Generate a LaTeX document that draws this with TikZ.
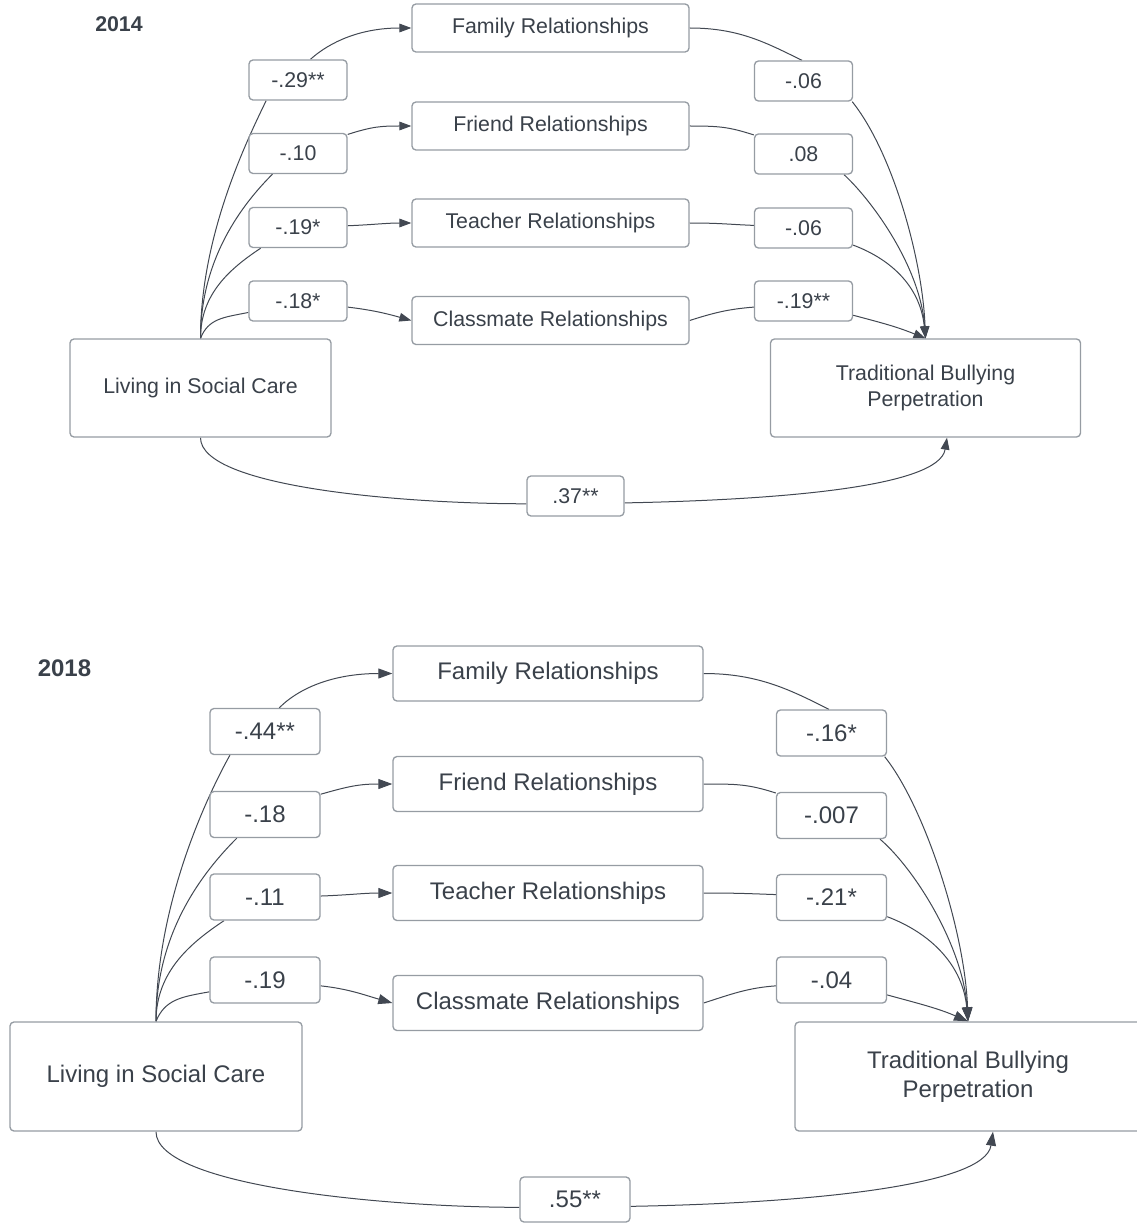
\documentclass[tikz,border=0pt]{standalone}
\usepackage{fontspec}
\setmainfont{Liberation Sans}
\usetikzlibrary{arrows.meta,calc}
\pgfdeclarelayer{bg}
\pgfsetlayers{bg,main}
\definecolor{ink}{RGB}{58,65,74}
\definecolor{wire}{RGB}{66,72,82}
\definecolor{frame}{RGB}{150,156,163}
\begin{document}
\begin{tikzpicture}[x=0.75pt,y=-0.75pt,
  box/.style={draw=frame, line width=1pt, rounded corners=3pt, fill=white, text=ink, inner sep=0pt, align=center},
  fsA/.style={font=\fontsize{16}{19.5}\selectfont},
  fsB/.style={font=\fontsize{18}{21.75}\selectfont},
  midA/.style={box, fsA, minimum width=207.75pt, minimum height=36pt},
  midB/.style={box, fsB, minimum width=232.5pt, minimum height=41.25pt},
  coefA/.style={box, fsA, minimum width=73.5pt, minimum height=30pt},
  coefB/.style={box, fsB, minimum width=82.5pt, minimum height=34.5pt},
  year/.style={text=ink, inner sep=0pt},
  wirestyle/.style={draw=wire, line width=0.75pt},
  tipA/.style={wirestyle, -{Triangle[length=9pt,width=6.5pt]}},
  tipB/.style={wirestyle, -{Triangle[length=10.5pt,width=7.5pt]}},
]
\useasboundingbox (0,0) rectangle (1136,1223);

% ---------- 2014 ----------
\node[year, font=\fontsize{16}{19}\selectfont\bfseries] (y14) at (119,24) {2014};
\node[midA] (fam14) at (550.5,28) {Family Relationships};
\node[midA] (fri14) at (550.5,126) {Friend Relationships};
\node[midA] (tea14) at (550.5,223) {Teacher Relationships};
\node[midA] (cla14) at (550.5,320.5) {Classmate Relationships};
\node[box, fsA, minimum width=195.75pt, minimum height=73.5pt] (liv14) at (200.5,388) {Living in Social Care};
\node[box, fsA, minimum width=232.5pt, minimum height=73.5pt] (tbp14) at (925.5,388) {Traditional Bullying\\Perpetration};
\node[coefA] (p14a) at (298,80) {-.29**};
\node[coefA] (p14b) at (298,153.5) {-.10};
\node[coefA] (p14c) at (298,227.5) {-.19*};
\node[coefA] (p14d) at (298,301) {-.18*};
\node[coefA] (q14a) at (803.5,81) {-.06};
\node[coefA] (q14b) at (803.5,154) {.08};
\node[coefA] (q14c) at (803.5,228) {-.06};
\node[coefA] (q14d) at (803.5,301) {-.19**};
\node[box, fsA, minimum width=72.75pt, minimum height=30pt] (r14) at (575.5,496) {.37**};
\coordinate (e14) at ($(tbp14.south)+(21.5,0)$);

% ---------- 2018 ----------
\node[year, font=\fontsize{18}{21}\selectfont\bfseries] (y18) at (64.5,668) {2018};
\node[midB] (fam18) at (548,673.5) {Family Relationships};
\node[midB] (fri18) at (548,784) {Friend Relationships};
\node[midB] (tea18) at (548,893) {Teacher Relationships};
\node[midB] (cla18) at (548,1003) {Classmate Relationships};
\node[box, fsB, minimum width=219pt, minimum height=81.75pt] (liv18) at (156,1076.5) {Living in Social Care};
\node[box, fsB, minimum width=259.5pt, minimum height=81.75pt] (tbp18) at (968,1076.5) {Traditional Bullying\\Perpetration};
\node[coefB] (p18a) at (265,731.5) {-.44**};
\node[coefB] (p18b) at (265,814.5) {-.18};
\node[coefB] (p18c) at (265,897) {-.11};
\node[coefB] (p18d) at (265,980) {-.19};
\node[coefB] (q18a) at (831.5,733) {-.16*};
\node[coefB] (q18b) at (831.5,815.5) {-.007};
\node[coefB] (q18c) at (831.5,897.5) {-.21*};
\node[coefB] (q18d) at (831.5,980) {-.04};
\node[box, fsB, minimum width=82.5pt, minimum height=33.75pt] (r18) at (575,1199.5) {.55**};
\coordinate (e18) at ($(tbp18.south)+(25,0)$);

\begin{pgfonlayer}{bg}
% 2014: care -> relationships
\draw[wirestyle] (liv14.north) .. controls +(0,-100) and +(-22,45) .. (p14a.213);
\draw[tipA] (p14a.59) .. controls +(20,-18) and +(-50,0) .. (fam14.west);
\draw[wirestyle] (liv14.north) .. controls +(0,-80) and +(-30,30) .. (p14b.219);
\draw[tipA] (p14b.21) .. controls +(25,-8) and +(-30,0) .. (fri14.west);
\draw[wirestyle] (liv14.north) .. controls +(0,-45) and +(-30,20) .. (p14c.209);
\draw[tipA] (p14c.2) .. controls +(25,-1) and +(-25,0) .. (tea14.west);
\draw[wirestyle] (liv14.north) .. controls +(8,-20) and +(-25,5) .. (p14d.193);
\draw[tipA] (p14d.353) .. controls +(25,3) and +(-25,-7) .. (cla14.west);
% 2014: relationships -> bullying
\draw[wirestyle] (fam14.east) .. controls +(50,0) and +(-35,-17) .. (q14a.94);
\draw[tipA] (q14a.337) .. controls +(40,50) and +(-3,-80) .. (tbp14.north);
\draw[wirestyle] (fri14.east) .. controls +(30,0) and +(-25,-8) .. (q14b.159);
\draw[tipA] (q14b.333) .. controls +(30,28) and +(-5,-70) .. (tbp14.north);
\draw[wirestyle] (tea14.east) .. controls +(30,0) and +(-25,-1) .. (q14c.177);
\draw[tipA] (q14c.341) .. controls +(40,15) and +(-5,-50) .. (tbp14.north);
\draw[wirestyle] (cla14.east) .. controls +(25,-8) and +(-25,2) .. (q14d.187);
\draw[tipA] (q14d.344) .. controls +(30,8) and +(-30,-12) .. (tbp14.north);
% 2014: direct path
\draw[wirestyle] (liv14.south) .. controls +(0,50) and +(-120,0) .. (r14.189);
\draw[tipA] (r14.352) .. controls +(150,-3) and +(-8,50) .. (e14);

% 2018: care -> relationships
\draw[wirestyle] (liv18.north) .. controls +(0,-115) and +(-25,45) .. (p18a.214);
\draw[tipB] (p18a.59) .. controls +(22,-22) and +(-55,0) .. (fam18.west);
\draw[wirestyle] (liv18.north) .. controls +(0,-90) and +(-33,33) .. (p18b.220);
\draw[tipB] (p18b.20) .. controls +(28,-8) and +(-33,0) .. (fri18.west);
\draw[wirestyle] (liv18.north) .. controls +(0,-50) and +(-33,22) .. (p18c.210);
\draw[tipB] (p18c.1) .. controls +(28,-1) and +(-28,0) .. (tea18.west);
\draw[wirestyle] (liv18.north) .. controls +(9,-22) and +(-28,5) .. (p18d.192);
\draw[tipB] (p18d.354) .. controls +(28,3) and +(-28,-8) .. (cla18.west);
% 2018: relationships -> bullying
\draw[wirestyle] (fam18.east) .. controls +(55,0) and +(-38,-19) .. (q18a.96);
\draw[tipB] (q18a.336) .. controls +(40,50) and +(-3,-90) .. (tbp18.north);
\draw[wirestyle] (fri18.east) .. controls +(33,0) and +(-28,-9) .. (q18b.158);
\draw[tipB] (q18b.334) .. controls +(35,30) and +(-5,-75) .. (tbp18.north);
\draw[wirestyle] (tea18.east) .. controls +(33,0) and +(-28,-1) .. (q18c.177);
\draw[tipB] (q18c.341) .. controls +(45,17) and +(-5,-55) .. (tbp18.north);
\draw[wirestyle] (cla18.east) .. controls +(28,-9) and +(-28,2) .. (q18d.186);
\draw[tipB] (q18d.345) .. controls +(33,9) and +(-30,-13) .. (tbp18.north);
% 2018: direct path
\draw[wirestyle] (liv18.south) .. controls +(0,55) and +(-130,0) .. (r18.188);
\draw[tipB] (r18.353) .. controls +(170,-3) and +(-8,55) .. (e18);
\end{pgfonlayer}
\end{tikzpicture}
\end{document}
